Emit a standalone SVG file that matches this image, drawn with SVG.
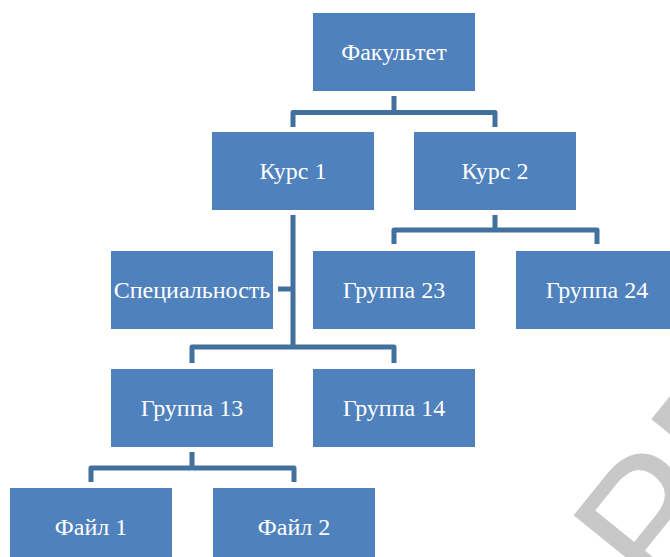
<svg xmlns="http://www.w3.org/2000/svg" width="670" height="557" viewBox="0 0 670 557">
  <style>
    .box { fill: #4f81bd; }
    .lbl { font-family: "Liberation Serif", "Times New Roman", serif; font-size: 24px; fill: #ffffff; text-anchor: middle; }
    .conn { fill: none; stroke: #41719c; stroke-width: 5; stroke-linejoin: round; }
    .wm { font-family: "Liberation Sans", Arial, sans-serif; font-size: 185px; fill: #c8c8c8; }
  </style>
  <rect width="670" height="557" fill="#ffffff"/>

  <!-- background watermark -->
  <text class="wm" transform="translate(591.7,508.3) rotate(-51)" x="-31.8" y="117.5">РЕ</text>

  <g id="connectors">
    <path class="conn" d="M394,96 V112.5 M293,127 V112.5 H495 V127"/>
    <path class="conn" d="M495,215 V230 M394,244 V230 H597 V244"/>
    <path class="conn" d="M293,215 V347 M192,363 V347 H394 V363 M278,289 H293"/>
    <path class="conn" d="M192,452 V468 M91,482 V468 H294 V482"/>
  </g>

  <g id="fakultet">
    <rect class="box" x="313" y="13" width="162" height="78"/>
    <text class="lbl" x="394" y="60">Факультет</text>
  </g>
  <g id="kurs1">
    <rect class="box" x="212" y="132" width="162" height="78"/>
    <text class="lbl" x="293" y="179">Курс 1</text>
  </g>
  <g id="kurs2">
    <rect class="box" x="414" y="132" width="162" height="78"/>
    <text class="lbl" x="495" y="179">Курс 2</text>
  </g>
  <g id="specialnost">
    <rect class="box" x="111" y="251" width="162" height="78"/>
    <text class="lbl" x="192" y="298">Специальность</text>
  </g>
  <g id="gruppa23">
    <rect class="box" x="313" y="251" width="162" height="78"/>
    <text class="lbl" x="394" y="298">Группа 23</text>
  </g>
  <g id="gruppa24">
    <rect class="box" x="516" y="251" width="162" height="78"/>
    <text class="lbl" x="597" y="298">Группа 24</text>
  </g>
  <g id="gruppa13">
    <rect class="box" x="111" y="369" width="162" height="78"/>
    <text class="lbl" x="192" y="416">Группа 13</text>
  </g>
  <g id="gruppa14">
    <rect class="box" x="313" y="369" width="162" height="78"/>
    <text class="lbl" x="394" y="416">Группа 14</text>
  </g>
  <g id="fail1">
    <rect class="box" x="10" y="488" width="162" height="78"/>
    <text class="lbl" x="91" y="535">Файл 1</text>
  </g>
  <g id="fail2">
    <rect class="box" x="213" y="488" width="162" height="78"/>
    <text class="lbl" x="294" y="535">Файл 2</text>
  </g>
</svg>
